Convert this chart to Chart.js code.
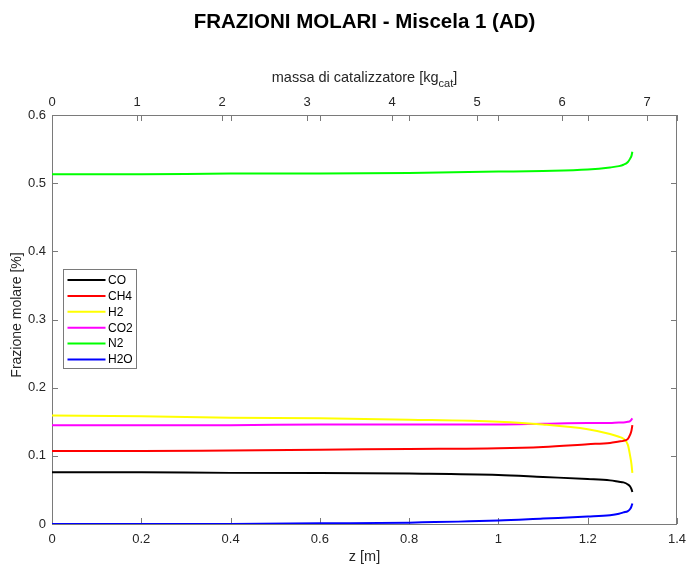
<!DOCTYPE html>
<html>
<head>
<meta charset="utf-8">
<script src="https://cdn.jsdelivr.net/npm/chart.js@4"></script>
<style>
  html, body { margin: 0; padding: 0; background: #fff; }
  #wrap { width: 689px; height: 567px; }
</style>
</head>
<body>
<div id="wrap"><canvas id="grafico" width="689" height="567"></canvas></div>
<script>
// lunghezza del reattore [m]
const z = [0, 0.2, 0.4, 0.6, 0.8, 1.0, 1.1, 1.2, 1.25, 1.27, 1.28, 1.29, 1.295, 1.298, 1.3];

// frazioni molari lungo il reattore
const CO  = [0.076, 0.076, 0.075, 0.075, 0.074, 0.072, 0.069, 0.066, 0.064, 0.062, 0.061, 0.058, 0.055, 0.051, 0.047];
const CH4 = [0.107, 0.107, 0.108, 0.109, 0.110, 0.111, 0.113, 0.117, 0.119, 0.121, 0.122, 0.125, 0.131, 0.137, 0.145];
const H2  = [0.159, 0.158, 0.156, 0.155, 0.153, 0.150, 0.146, 0.139, 0.132, 0.128, 0.125, 0.116, 0.100, 0.088, 0.075];
const CO2 = [0.145, 0.145, 0.145, 0.146, 0.146, 0.146, 0.147, 0.148, 0.148, 0.149, 0.149, 0.150, 0.151, 0.153, 0.155];
const N2  = [0.513, 0.513, 0.514, 0.514, 0.515, 0.517, 0.518, 0.520, 0.523, 0.525, 0.527, 0.531, 0.536, 0.540, 0.546];
const H2O = [0.000, 0.000, 0.000, 0.001, 0.002, 0.005, 0.008, 0.011, 0.013, 0.015, 0.017, 0.019, 0.022, 0.026, 0.030];

const specie = ["CO", "CH4", "H2", "CO2", "N2", "H2O"];
const colori = ["#000000", "#ff0000", "#ffff00", "#ff00ff", "#00ff00", "#0000ff"];
const serie = [CO, CH4, H2, CO2, N2, H2O];

// tacche degli assi
const zTicks = [0, 0.2, 0.4, 0.6, 0.8, 1, 1.2, 1.4];
const massaTicks = [0, 1, 2, 3, 4, 5, 6, 7];
const yTicks = [0, 0.1, 0.2, 0.3, 0.4, 0.5, 0.6];
const massaMax = 7.35;

const FONT = "'Liberation Sans', Arial, Helvetica, sans-serif";
const TESTO = "#262626";
const ASSE = "#7a7a7a";

// cornice, tacche interne, titoli e legenda
const cornice = {
  id: "cornice",
  beforeDatasetsDraw(chart) {
    const c = chart.ctx;
    const a = chart.chartArea;
    const sx = chart.scales.x, sx2 = chart.scales.x2, sy = chart.scales.y;
    c.save();
    c.strokeStyle = ASSE;
    c.lineWidth = 1;
    c.strokeRect(a.left + 0.5, a.top + 0.5, a.right - a.left - 1, a.bottom - a.top);
    c.beginPath();
    const L = 6;
    zTicks.forEach(v => {
      const px = Math.round(sx.getPixelForValue(v)) + 0.5;
      c.moveTo(px, a.bottom); c.lineTo(px, a.bottom - L);
      c.moveTo(px, a.top); c.lineTo(px, a.top + L);
    });
    massaTicks.forEach(v => {
      const px = Math.round(sx2.getPixelForValue(v)) + 0.5;
      c.moveTo(px, a.top); c.lineTo(px, a.top + L);
    });
    yTicks.forEach(v => {
      const py = Math.round(sy.getPixelForValue(v)) + 0.5;
      c.moveTo(a.left, py); c.lineTo(a.left + L, py);
      c.moveTo(a.right, py); c.lineTo(a.right - L, py);
    });
    c.stroke();
    c.restore();
  },
  afterDraw(chart) {
    const c = chart.ctx;
    const a = chart.chartArea;
    const cx = (a.left + a.right) / 2;
    c.save();
    // titolo
    c.fillStyle = "#000";
    c.font = "bold 20.5px " + FONT;
    c.textAlign = "center";
    c.textBaseline = "middle";
    c.fillText("FRAZIONI MOLARI - Miscela 1 (AD)", cx, 22);

    // titoli degli assi
    c.fillStyle = TESTO;
    c.font = "14.5px " + FONT;
    c.fillText("z [m]", cx, 557);
    c.save();
    c.translate(17, 315);
    c.rotate(-Math.PI / 2);
    c.font = "14px " + FONT;
    c.fillText("Frazione molare [%]", 0, 0);
    c.restore();

    // asse superiore, con pedice
    const parte1 = "massa di catalizzatore [kg";
    const pedice = "cat";
    const parte3 = "]";
    c.font = "14.5px " + FONT;
    const w1 = c.measureText(parte1).width;
    const w3 = c.measureText(parte3).width;
    c.font = "11px " + FONT;
    const w2 = c.measureText(pedice).width;
    let x0 = cx - (w1 + w2 + w3) / 2;
    c.textAlign = "left";
    c.textBaseline = "alphabetic";
    c.font = "14.5px " + FONT;
    c.fillText(parte1, x0, 82);
    c.font = "11px " + FONT;
    c.fillText(pedice, x0 + w1, 87);
    c.font = "14.5px " + FONT;
    c.fillText(parte3, x0 + w1 + w2, 82);

    // legenda
    const bx = 63.5, by = 269.5, bw = 73, bh = 99;
    c.fillStyle = "#fff";
    c.fillRect(bx, by, bw, bh);
    c.strokeStyle = ASSE;
    c.lineWidth = 1;
    c.strokeRect(bx, by, bw, bh);
    c.font = "12px " + FONT;
    c.textBaseline = "middle";
    chart.data.datasets.forEach((ds, i) => {
      const yy = 280 + i * 15.9;
      c.strokeStyle = ds.borderColor;
      c.lineWidth = 2;
      c.beginPath();
      c.moveTo(67.5, yy);
      c.lineTo(105.5, yy);
      c.stroke();
      c.fillStyle = "#000";
      c.fillText(ds.label, 108, yy + 0.5);
    });
    c.restore();
  }
};

const ctx = document.getElementById("grafico").getContext("2d");
new Chart(ctx, {
  type: "line",
  data: {
    datasets: serie.map((s, i) => ({
      label: specie[i],
      data: z.map((v, k) => ({ x: v, y: s[k] })),
      borderColor: colori[i],
      backgroundColor: colori[i],
      borderWidth: 2,
      pointRadius: 0,
      cubicInterpolationMode: "monotone",
      fill: false,
      xAxisID: "x",
      yAxisID: "y"
    }))
  },
  options: {
    responsive: false,
    animation: false,
    layout: { padding: { left: 0, right: 12, top: 0, bottom: 0 } },
    plugins: {
      legend: { display: false },
      title: { display: false },
      tooltip: { enabled: false }
    },
    scales: {
      x: {
        type: "linear",
        position: "bottom",
        min: 0,
        max: 1.4,
        grid: { display: false, drawTicks: false },
        border: { display: false },
        afterBuildTicks: s => { s.ticks = zTicks.map(v => ({ value: v })); },
        afterFit: s => { s.height = 43; s.paddingLeft = 0; s.paddingRight = 0; },
        ticks: {
          autoSkip: false,
          maxRotation: 0,
          padding: 8,
          color: TESTO,
          font: { family: FONT, size: 13 },
          callback: v => String(v)
        }
      },
      x2: {
        type: "linear",
        position: "top",
        min: 0,
        max: massaMax,
        grid: { display: false, drawTicks: false },
        border: { display: false },
        afterBuildTicks: s => { s.ticks = massaTicks.map(v => ({ value: v })); },
        afterFit: s => { s.height = 115; s.paddingLeft = 0; s.paddingRight = 0; },
        ticks: {
          autoSkip: false,
          maxRotation: 0,
          padding: 5,
          color: TESTO,
          font: { family: FONT, size: 13 },
          callback: v => String(v)
        }
      },
      y: {
        type: "linear",
        min: 0,
        max: 0.6,
        grid: { display: false, drawTicks: false },
        border: { display: false },
        afterBuildTicks: s => { s.ticks = yTicks.map(v => ({ value: v })); },
        afterFit: s => { s.width = 52; s.paddingTop = 0; s.paddingBottom = 0; },
        ticks: {
          autoSkip: false,
          padding: 6,
          color: TESTO,
          font: { family: FONT, size: 13 },
          callback: v => String(v)
        }
      }
    }
  },
  plugins: [cornice]
});
</script>
</body>
</html>
